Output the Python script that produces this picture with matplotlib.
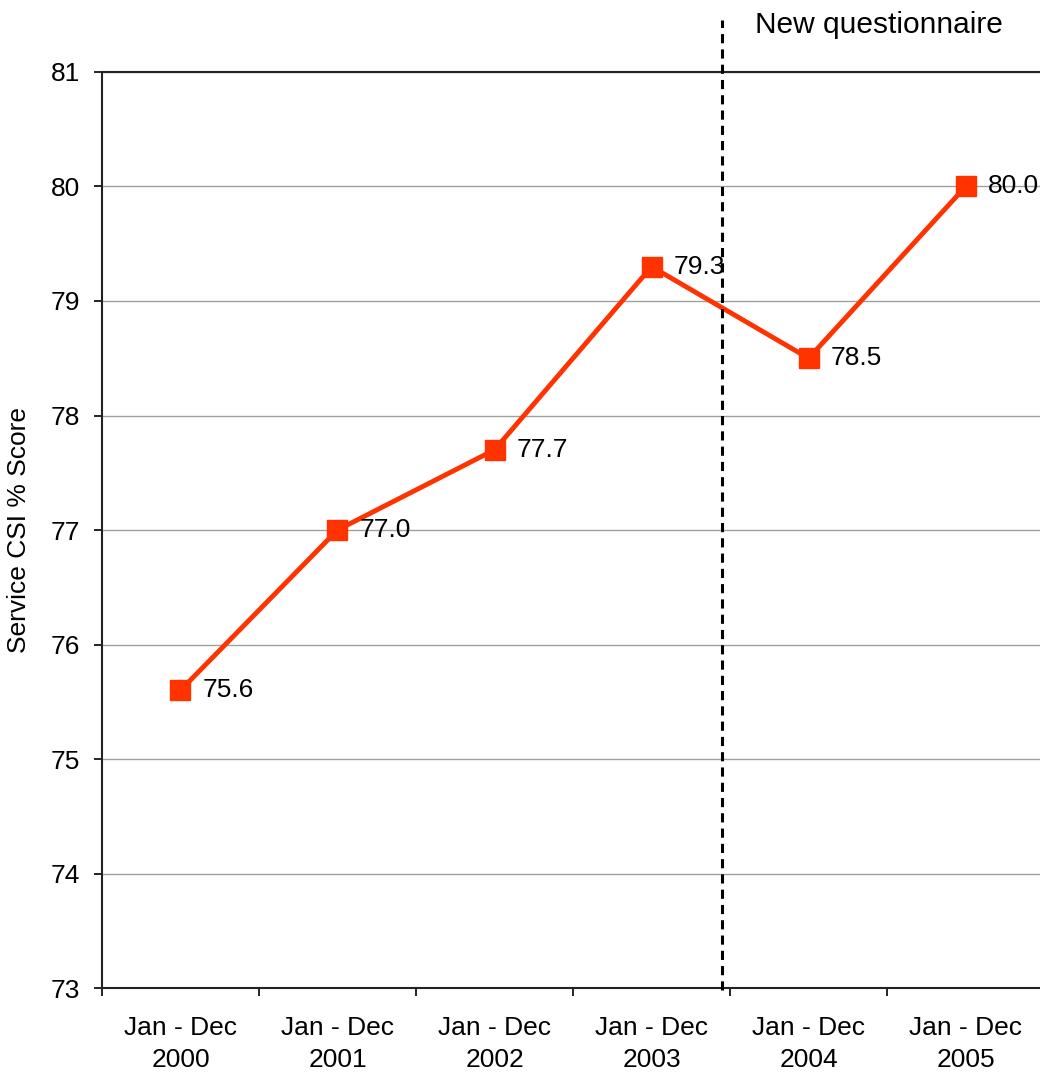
import matplotlib.pyplot as plt
import numpy as np

plt.rcParams['font.family'] = ['Liberation Sans', 'DejaVu Sans']

periods = ['Jan - Dec\n2000', 'Jan - Dec\n2001', 'Jan - Dec\n2002',
           'Jan - Dec\n2003', 'Jan - Dec\n2004', 'Jan - Dec\n2005']
scores = [75.6, 77.0, 77.7, 79.3, 78.5, 80.0]
y_ticks = [73, 74, 75, 76, 77, 78, 79, 80, 81]
change_pos = 3.45  # new questionnaire introduced between 2003 and 2004

FS = 19

fig = plt.figure(figsize=(10.4, 10.74), dpi=100)
ax = fig.add_axes([0.098, 0.080, 0.906, 0.853])

x = np.arange(len(scores))
ax.plot(x, scores, color='#FF3300', linewidth=3.5, marker='s',
        markersize=15, zorder=3, clip_on=False)
for xi, v in zip(x, scores):
    ax.annotate(f'{v:.1f}', (xi, v), xytext=(16, 0), textcoords='offset points',
                ha='left', va='center', fontsize=FS, zorder=4)

ax.set_xlim(-0.5, len(scores) - 0.5)
ax.set_ylim(73, 81)
ax.set_yticks(y_ticks)
ax.tick_params(axis='y', labelsize=FS, length=6, width=1.2, pad=10)
ax.grid(axis='y', color='#A0A0A0', linewidth=1.0)
ax.set_axisbelow(True)

# boundaries get tick marks, centres get the labels
ax.set_xticks(np.arange(len(scores) + 1) - 0.5)
ax.set_xticklabels([])
ax.set_xticks(x, minor=True)
ax.set_xticklabels(periods, minor=True, fontsize=FS, linespacing=1.45)
ax.tick_params(axis='x', which='major', length=6, width=1.2)
ax.tick_params(axis='x', which='minor', length=0, pad=20)

for side in ['left', 'bottom', 'top']:
    ax.spines[side].set_linewidth(1.5)
    ax.spines[side].set_color('#222222')
ax.spines['right'].set_visible(False)

ax.set_ylabel('Service CSI % Score', fontsize=FS, labelpad=14)

ax.axvline(change_pos, ymin=-0.002, ymax=1.057, color='black', linewidth=2.2,
           linestyle=(0, (3, 2)), clip_on=False, zorder=5)
ax.text(change_pos + 0.21, 81.41, 'New questionnaire', fontsize=21.5,
        ha='left', va='center')

fig.savefig('out.png', dpi=100)
